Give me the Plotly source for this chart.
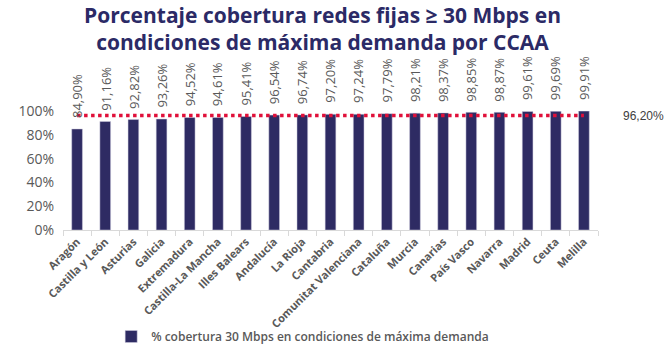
import plotly.graph_objects as go

categories = ["Aragón", "Castilla y León", "Asturias", "Galicia", "Extremadura",
              "Castilla-La Mancha", "Illes Balears", "Andalucía", "La Rioja", "Cantabria",
              "Comunitat Valenciana", "Cataluña", "Murcia", "Canarias", "País Vasco",
              "Navarra", "Madrid", "Ceuta", "Melilla"]
values = [84.90, 91.16, 92.82, 93.26, 94.52, 94.61, 95.41, 96.54, 96.74, 97.20,
          97.24, 97.79, 98.21, 98.37, 98.85, 98.87, 99.61, 99.69, 99.91]
reference_value = 96.20
series_name = "% cobertura 30 Mbps en condiciones de máxima demanda"
title_text = "Porcentaje cobertura redes fijas ≥ 30 Mbps en<br>condiciones de máxima demanda por CCAA"
ytick_vals = [0, 20, 40, 60, 80, 100]
ytick_text = [f"{v}%" for v in ytick_vals]


def es_pct(v):
    return f"{v:.2f}%".replace(".", ",")


navy = "#2E2B63"
gray = "#595959"
red = "#E0103A"
FONT = "Open Sans"

fig = go.Figure()
fig.add_trace(go.Bar(
    x=categories, y=values, name=series_name,
    marker=dict(color=navy, line=dict(color="#D0CFE0", width=0.5)),
    width=0.38,
))
fig.add_trace(go.Scatter(
    x=categories, y=[reference_value] * len(categories), mode="lines",
    line=dict(color=red, width=3.5, dash="dot"), showlegend=False,
    cliponaxis=False,
))
for c, v in zip(categories, values):
    fig.add_annotation(
        x=c, y=v, text=es_pct(v), textangle=-90, showarrow=False,
        xanchor="center", yanchor="bottom", yshift=9,
        font=dict(family=FONT, size=13, color=gray),
    )
fig.add_annotation(
    x=categories[-1], y=reference_value, text=es_pct(reference_value),
    xanchor="left", yanchor="middle", xshift=37, showarrow=False,
    font=dict(family="Liberation Sans", size=12, color="#404040"),
)

fig.update_layout(
    width=665, height=352, autosize=False,
    margin=dict(l=63, r=67, t=111, b=122, autoexpand=False),
    paper_bgcolor="white", plot_bgcolor="white",
    title=dict(text=title_text, x=0.485, xanchor="center", y=0.935, yanchor="middle",
               font=dict(family=FONT, size=21, color="#2B2A66", weight="bold")),
    legend=dict(orientation="h", x=0.448, xanchor="center", y=-0.895, yanchor="middle",
                bgcolor="rgba(0,0,0,0)",
                font=dict(family=FONT, size=12, color=gray, weight=600)),
    showlegend=True,
)
fig.update_xaxes(
    type="category", range=[-0.5, len(categories) - 0.5], automargin=False,
    showline=True, linecolor="#D9D9D9", linewidth=1,
    ticks="outside", tickson="boundaries", ticklen=5, tickcolor="#D9D9D9",
    tickangle=-45, showgrid=False,
    tickfont=dict(family=FONT, size=11, color=gray, weight="bold"),
)
fig.update_yaxes(
    range=[0, 100], tickmode="array", tickvals=ytick_vals, ticktext=ytick_text,
    automargin=False, showgrid=False, zeroline=False, showline=False,
    ticklabelstandoff=8,
    tickfont=dict(family=FONT, size=14, color=gray),
)

fig.write_html("out.html")
